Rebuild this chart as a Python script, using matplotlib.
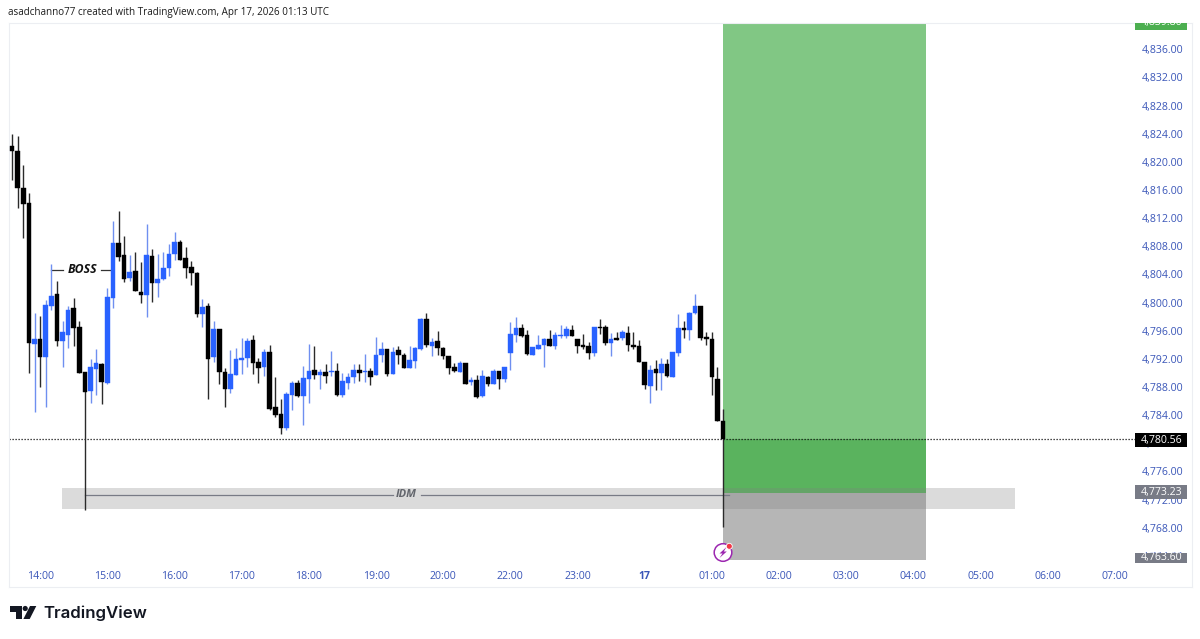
"""Gold 5 minute candles with a long position box, TradingView snapshot style."""
import matplotlib
matplotlib.use("Agg")
import matplotlib.pyplot as plt
from matplotlib.patches import Circle, Polygon, Rectangle
from matplotlib.transforms import blended_transform_factory

# candle values, oldest first
opens = [
    4822.21, 4821.59, 4816.24, 4814.11, 4794.07, 4794.78, 4792.22, 4799.55, 4801.17, 4794.54,
    4795.39, 4799.18, 4796.48, 4790.09, 4787.43, 4790.60, 4791.31, 4788.52, 4800.69, 4808.43,
    4806.72, 4803.49, 4804.49, 4801.50, 4801.08, 4806.62, 4802.78, 4803.31, 4804.87, 4806.86,
    4808.57, 4806.34, 4805.01, 4804.16, 4798.33, 4799.55, 4792.22, 4796.20, 4790.17, 4787.67,
    4789.70, 4791.83, 4792.08, 4794.68, 4791.60, 4790.84, 4792.93, 4785.11, 4784.16, 4782.13,
    4786.86, 4788.61, 4786.76, 4789.13, 4790.46, 4789.75, 4790.09, 4790.09, 4790.31, 4786.82,
    4788.61, 4789.38, 4790.37, 4790.13, 4790.23, 4789.75, 4792.54, 4793.40, 4789.85, 4793.21,
    4792.59, 4790.70, 4791.69, 4793.40, 4797.71, 4793.83, 4794.49, 4793.54, 4792.40, 4790.84,
    4790.17, 4791.41, 4788.66, 4788.99, 4786.67, 4789.46, 4788.47, 4790.23, 4789.09, 4792.83,
    4795.39, 4796.38, 4795.39, 4792.59, 4793.40, 4793.97, 4794.78, 4793.83, 4795.29, 4795.29,
    4796.10, 4794.78, 4793.92, 4793.87, 4792.79, 4796.57, 4796.48, 4794.29, 4794.96, 4794.96,
    4795.63, 4793.97, 4793.78, 4791.55, 4788.14, 4790.56, 4789.99, 4791.31, 4789.46, 4792.79,
    4796.38, 4796.10, 4798.56, 4799.47, 4795.11, 4794.86, 4789.13, 4783.16,
]
highs = [
    4823.96, 4823.68, 4819.51, 4815.53, 4798.47, 4798.09, 4800.36, 4805.48, 4803.02, 4797.38,
    4799.51, 4800.65, 4797.38, 4790.13, 4792.02, 4793.40, 4791.41, 4802.03, 4811.59, 4812.97,
    4809.51, 4806.72, 4807.19, 4805.72, 4811.12, 4807.57, 4806.95, 4807.19, 4808.33, 4810.03,
    4808.89, 4807.94, 4805.95, 4804.34, 4800.51, 4799.89, 4797.38, 4796.28, 4790.65, 4793.26,
    4793.50, 4794.96, 4794.92, 4795.39, 4792.08, 4793.40, 4793.93, 4789.38, 4786.25, 4787.33,
    4788.85, 4789.03, 4790.98, 4794.11, 4793.83, 4790.56, 4791.22, 4793.16, 4791.37, 4790.03,
    4789.94, 4791.27, 4791.27, 4792.69, 4790.65, 4795.15, 4794.39, 4793.40, 4793.68, 4793.83,
    4792.79, 4793.83, 4793.68, 4797.81, 4798.56, 4794.92, 4795.92, 4793.68, 4792.40, 4791.37,
    4791.65, 4791.41, 4789.42, 4789.70, 4790.37, 4789.56, 4790.51, 4790.23, 4790.80, 4797.24,
    4797.90, 4796.95, 4796.06, 4793.68, 4795.35, 4795.01, 4796.10, 4795.82, 4796.77, 4796.71,
    4796.77, 4794.82, 4795.53, 4794.35, 4796.57, 4797.71, 4796.85, 4795.72, 4795.86, 4796.10,
    4796.62, 4795.77, 4794.63, 4791.55, 4791.08, 4791.83, 4792.16, 4791.93, 4792.93, 4798.33,
    4797.34, 4798.70, 4801.17, 4799.47, 4795.86, 4795.77, 4790.80, 4784.83,
]
lows = [
    4817.42, 4813.40, 4809.22, 4790.03, 4784.49, 4788.04, 4785.20, 4798.94, 4793.87, 4790.88,
    4793.54, 4793.83, 4790.03, 4770.51, 4785.68, 4786.90, 4785.58, 4788.42, 4799.27, 4805.87,
    4802.92, 4803.02, 4801.65, 4799.94, 4797.99, 4800.08, 4800.83, 4803.21, 4803.78, 4806.05,
    4806.01, 4803.53, 4802.54, 4797.90, 4796.57, 4786.34, 4791.51, 4788.42, 4785.20, 4787.10,
    4789.70, 4789.85, 4790.88, 4789.85, 4788.61, 4789.60, 4784.73, 4783.69, 4781.27, 4781.88,
    4784.73, 4786.53, 4782.60, 4785.77, 4789.13, 4787.67, 4788.52, 4789.56, 4786.76, 4786.53,
    4787.71, 4788.61, 4788.89, 4788.71, 4788.24, 4789.75, 4791.59, 4789.60, 4789.85, 4791.31,
    4790.70, 4790.70, 4790.70, 4793.26, 4793.73, 4792.45, 4792.55, 4791.93, 4789.85, 4790.09,
    4790.09, 4788.38, 4788.28, 4786.39, 4786.53, 4788.14, 4788.47, 4787.76, 4788.75, 4790.37,
    4794.44, 4795.06, 4792.59, 4792.59, 4793.40, 4790.84, 4793.83, 4793.36, 4794.92, 4795.01,
    4795.29, 4792.83, 4793.40, 4791.98, 4792.45, 4795.53, 4793.92, 4792.45, 4794.72, 4794.67,
    4793.16, 4793.44, 4791.60, 4787.76, 4785.77, 4787.61, 4787.53, 4789.46, 4789.37, 4792.45,
    4795.01, 4794.67, 4798.33, 4794.72, 4793.97, 4786.90, 4783.12, 4768.09,
]
closes = [
    4821.54, 4816.24, 4814.01, 4794.29, 4794.78, 4792.22, 4799.65, 4800.93, 4794.54, 4795.77,
    4798.94, 4796.38, 4790.03, 4787.33, 4790.80, 4791.41, 4788.66, 4800.79, 4808.43, 4806.48,
    4803.39, 4804.34, 4801.65, 4801.08, 4806.72, 4802.78, 4803.39, 4804.96, 4806.90, 4808.57,
    4806.01, 4804.91, 4804.16, 4798.33, 4799.33, 4791.98, 4796.20, 4790.13, 4787.67, 4789.85,
    4791.93, 4792.16, 4794.54, 4791.37, 4790.74, 4792.93, 4784.91, 4784.06, 4782.13, 4787.00,
    4788.61, 4786.72, 4789.23, 4790.31, 4789.70, 4790.09, 4789.60, 4790.27, 4786.86, 4788.81,
    4789.42, 4790.41, 4789.99, 4790.27, 4789.46, 4792.54, 4793.40, 4789.80, 4793.01, 4792.59,
    4790.70, 4791.79, 4793.54, 4797.62, 4793.92, 4794.39, 4793.54, 4792.36, 4790.70, 4790.27,
    4791.41, 4788.47, 4788.95, 4786.58, 4789.56, 4788.47, 4790.23, 4789.09, 4790.80, 4795.49,
    4796.38, 4795.25, 4792.69, 4793.64, 4793.92, 4794.78, 4793.83, 4795.35, 4795.39, 4796.24,
    4795.29, 4793.83, 4793.73, 4792.79, 4796.52, 4796.38, 4794.25, 4794.86, 4794.72, 4795.77,
    4793.97, 4793.73, 4791.60, 4788.28, 4790.46, 4789.99, 4791.31, 4789.56, 4792.93, 4796.38,
    4796.14, 4798.56, 4799.47, 4795.01, 4794.78, 4789.37, 4783.21, 4780.56,
]

# axis labels
price_ticks = [4764 + 4 * k for k in range(19)]
time_pos = [5 + 12 * k for k in range(17)]
time_labels = ["14:00", "15:00", "16:00", "17:00", "18:00", "19:00", "20:00", "22:00", "23:00",
               "17", "01:00", "02:00", "03:00", "04:00", "05:00", "06:00", "07:00"]

# position tool and drawn levels
entry_price = 4773.23
stop_price = 4763.60
target_price = 4839.80
last_price = closes[-1]
entry_edge = 4772.95      # where the green and grey zones meet on screen
stop_edge = 4763.40
box_start, box_end = 127, 163.3
idm_start, idm_end = 8.9, 179.2
idm_top, idm_bottom = 4773.60, 4770.60
idm_level = 4772.65
boss_level = 4804.67

W, H = 1200, 639
BLUE, BLACK = "#2962ff", "#000000"
LABEL_BLUE = "#3a56b8"
GREY_TAG = "#787b86"
LABEL_SIZE = 7.6
plt.rcParams["font.family"] = ["Open Sans", "DejaVu Sans"]

fig = plt.figure(figsize=(W / 100, H / 100), dpi=100, facecolor="white")
ax = fig.add_axes([8.5 / W, (H - 586.5) / H, 1183 / W, 563.5 / H])
ax.set_xlim(-0.66, 210.7)
ax.set_ylim(4759.64, 4839.74)
for sp in ax.spines.values():
    sp.set_color("#eceef2")
    sp.set_linewidth(0.8)

# long position box: profit zone, open profit part, stop zone
ax.add_patch(Rectangle((box_start, entry_edge), box_end - box_start, target_price - entry_edge,
                       facecolor="#81c784", edgecolor="none", zorder=1))
ax.add_patch(Rectangle((box_start, entry_edge), box_end - box_start, last_price - entry_edge,
                       facecolor="#5ab35e", edgecolor="none", zorder=1.1))
ax.add_patch(Rectangle((box_start, stop_edge), box_end - box_start, entry_edge - stop_edge,
                       facecolor="#b6b6b6", edgecolor="none", zorder=1))

# IDM band over everything in the box
ax.add_patch(Rectangle((idm_start, idm_bottom), idm_end - idm_start, idm_top - idm_bottom,
                       facecolor="#808080", alpha=0.28, edgecolor="none", zorder=1.2))
ax.plot([13.0, 68.0], [idm_level, idm_level], color="#787b86", lw=0.9, zorder=1.3)
ax.plot([73.0, 128], [idm_level, idm_level], color="#787b86", lw=0.9, zorder=1.3)
ax.text(70.4, idm_level, "IDM", ha="center", va="center", fontsize=8, fontweight="bold",
        style="italic", color="#63666d", zorder=1.4)

# candles
x = list(range(len(opens)))
colors = [BLUE if c >= o else BLACK for o, c in zip(opens, closes)]
wick_colors = ["#6f8ff0" if c == BLUE else "#2a2a2a" for c in colors]
ax.vlines(x, lows, highs, colors=wick_colors, lw=1.0, zorder=3)
ax.bar(x, [abs(c - o) for o, c in zip(opens, closes)], bottom=[min(o, c) for o, c in zip(opens, closes)],
       width=0.82, color=colors, edgecolor=colors, linewidth=0.3, zorder=4)

# BOSS marker
ax.plot([7, 9.1], [boss_level, boss_level], color="#333333", lw=0.9, zorder=2)
ax.plot([15.8, 17.8], [boss_level, boss_level], color="#333333", lw=0.9, zorder=2)
ax.text(12.5, boss_level, "BOSS", ha="center", va="center", fontsize=8.8, fontweight="bold",
        style="italic", color="#111111", zorder=5)

# last price line
ax.plot([-0.66, 201.5], [last_price, last_price], color="#111111", lw=0.9, ls=(0, (1, 1.4)), zorder=2)

# axis labels sit inside the frame, as on the TradingView scale
ax.set_yticks(price_ticks)
ax.set_yticklabels([f"{p:,.2f}" for p in price_ticks])
ax.yaxis.tick_right()
ax.tick_params(axis="y", length=0, pad=-35.5, labelsize=LABEL_SIZE, labelcolor=LABEL_BLUE)
ax.set_xticks(time_pos)
ax.set_xticklabels(time_labels)
ax.tick_params(axis="x", length=0, pad=-11.5, labelsize=LABEL_SIZE, labelcolor=LABEL_BLUE)
ax.get_xticklabels()[9].set_fontweight("bold")

# price scale tags: value, tag bottom, tag top, colour
trans = blended_transform_factory(ax.transAxes, ax.transData)
tag_left = (1135 - 8.5) / 1183
tag_w = 51.7 / 1183
tag_mid = (1161.5 - 8.5) / 1183
tags = [
    (last_price, 4779.43, 4781.42, "#000000"),
    (entry_price, 4772.03, 4774.07, GREY_TAG),
    (stop_price, 4763.00, 4764.44, GREY_TAG),
    (target_price, 4838.74, 4839.74, "#4caf50"),
]
for price, tag_bot, tag_top, col in tags:
    r = Rectangle((tag_left, tag_bot), tag_w, tag_top - tag_bot, transform=trans, facecolor=col,
                  edgecolor="none", zorder=6)
    ax.add_patch(r)
    t = ax.text(tag_mid, (tag_bot + tag_top) / 2 if price != target_price else price, f"{price:,.2f}",
                transform=trans, ha="center", va="center", fontsize=LABEL_SIZE, color="white", zorder=7)
    t.set_clip_path(r)

# overlay in pixel units for header, logo and alert icon
ov = fig.add_axes([0, 0, 1, 1], zorder=10)
ov.set_xlim(0, W)
ov.set_ylim(H, 0)
ov.axis("off")
ov.patch.set_alpha(0)
ov.text(8.5, 12.5, "asadchanno77 created with TradingView.com, Apr 17, 2026 01:13 UTC",
        fontsize=7.15, color="#1c1c1c", va="center")

# alert icon
ov.add_patch(Circle((723, 552.5), 8.8, facecolor="white", edgecolor="#9c27b0", lw=1.1))
ov.add_patch(Polygon([(726.5, 547), (719.5, 553.5), (722.5, 553.5), (719.5, 558),
                      (726.8, 551.5), (723.8, 551.5)], closed=True, facecolor="#9c27b0",
                     edgecolor="none"))
ov.add_patch(Circle((729.3, 546.3), 3.0, facecolor="#f23645", edgecolor="white", lw=0.6))

# TradingView logo
logo = "#131722"
ov.add_patch(Polygon([(10, 606), (21.7, 606), (21.7, 619), (15.7, 619), (15.7, 611.5), (10, 611.5)],
                     closed=True, facecolor=logo, edgecolor="none"))
ov.add_patch(Circle((25.2, 608.5), 2.6, facecolor=logo, edgecolor="none"))
ov.add_patch(Polygon([(30, 606), (36.3, 606), (29.7, 619), (23.4, 619)], closed=True, facecolor=logo,
                     edgecolor="none"))
ov.text(43, 613, "TradingView", fontsize=12.1, fontweight="semibold", color=logo, va="center",
        family=["Inter", "DejaVu Sans"])

fig.savefig("out.png", dpi=100)
